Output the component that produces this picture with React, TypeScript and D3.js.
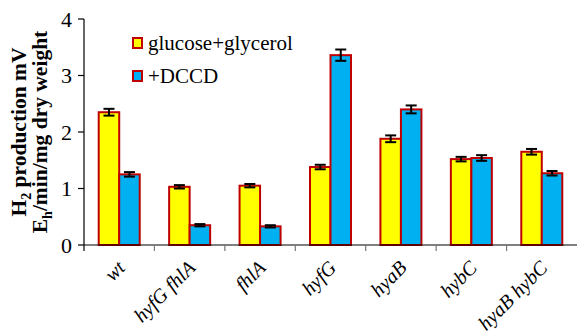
import * as d3 from 'd3';

const WIDTH = 577;
const HEIGHT = 336;
const MARGIN = { top: 19, right: 0, bottom: 91, left: 84 };

const categories = ['wt', 'hyfG fhlA', 'fhlA', 'hyfG', 'hyaB', 'hybC', 'hyaB hybC'];
const series = ['glucose+glycerol', '+DCCD'];
const glucoseValues = [2.35, 1.03, 1.05, 1.38, 1.88, 1.52, 1.65];
const glucoseErrors = [0.06, 0.03, 0.03, 0.04, 0.06, 0.04, 0.05];
const dccdValues = [1.25, 0.35, 0.33, 3.36, 2.4, 1.54, 1.27];
const dccdErrors = [0.04, 0.02, 0.02, 0.1, 0.07, 0.05, 0.04];
const yTicks = [0, 1, 2, 3, 4];
const colors = ['#ffff00', '#00b0f0'];

const FONT = 'Liberation Serif';

export default function App() {
  const w = WIDTH - MARGIN.left - MARGIN.right;
  const h = HEIGHT - MARGIN.top - MARGIN.bottom;

  const x = d3.scaleBand().domain(categories).range([0, w]);
  const xs = d3.scaleBand().domain(series).range([x.bandwidth() / 2 - 20.5, x.bandwidth() / 2 + 20.5]);
  const y = d3.scaleLinear().domain([0, 4]).range([h, 0]);

  const data = [glucoseValues, dccdValues];
  const errs = [glucoseErrors, dccdErrors];

  return (
    <svg
      width={WIDTH}
      height={HEIGHT}
      style={{ position: 'absolute', left: 0, top: 0, background: '#fff' }}
    >
      <g transform={`translate(${MARGIN.left},${MARGIN.top})`}>
        {/* bars */}
        {series.map((s, si) =>
          categories.map((c, ci) => {
            const v = data[si][ci];
            return (
              <rect
                key={`b-${s}-${c}`}
                x={(x(c) as number) + (xs(s) as number)}
                y={y(v)}
                width={xs.bandwidth()}
                height={h - y(v)}
                fill={colors[si]}
                stroke="#c00000"
                strokeWidth={2}
              />
            );
          })
        )}

        {/* error bars */}
        {series.map((s, si) =>
          categories.map((c, ci) => {
            const v = data[si][ci];
            const e = errs[si][ci];
            const cx = (x(c) as number) + (xs(s) as number) + xs.bandwidth() / 2;
            return (
              <g key={`e-${s}-${c}`} stroke="#000" strokeWidth={2}>
                <line x1={cx} x2={cx} y1={y(v - e)} y2={y(v + e)} />
                <line x1={cx - 5.5} x2={cx + 5.5} y1={y(v - e)} y2={y(v - e)} />
                <line x1={cx - 5.5} x2={cx + 5.5} y1={y(v + e)} y2={y(v + e)} />
              </g>
            );
          })
        )}

        {/* y axis */}
        <line x1={0} x2={0} y1={0} y2={h + 6} stroke="#000" strokeWidth={1.2} />
        {yTicks.map((t) => (
          <g key={`yt-${t}`}>
            <line x1={-6} x2={0} y1={y(t)} y2={y(t)} stroke="#000" strokeWidth={1.2} />
            <text x={-12} y={y(t)} dy="0.35em" textAnchor="end" fontFamily={FONT} fontSize={22}>
              {t}
            </text>
          </g>
        ))}

        {/* x axis */}
        <line x1={0} x2={w} y1={h} y2={h} stroke="#000" strokeWidth={1.2} />
        {categories.map((c, i) => {
          const cx = (x(c) as number) + x.bandwidth() / 2;
          return (
            <g key={`xt-${c}`}>
              {i > 0 && (
                <line x1={x(c) as number} x2={x(c) as number} y1={h} y2={h + 6} stroke="#777" strokeWidth={1.2} />
              )}
              <text
                transform={`translate(${cx + 2},${h + 19}) rotate(-45)`}
                textAnchor="end"
                dy="0.35em"
                fontFamily={FONT}
                fontStyle="italic"
                fontSize={20}
              >
                {c}
              </text>
            </g>
          );
        })}

        {/* legend */}
        {series.map((s, i) => {
          const ly = 43 + i * 33 - MARGIN.top;
          return (
            <g key={`l-${s}`}>
              <rect
                x={133 - MARGIN.left}
                y={ly - 5}
                width={9}
                height={10}
                fill={colors[i]}
                stroke="#c00000"
                strokeWidth={2}
              />
              <text x={148 - MARGIN.left} y={ly} dy="0.35em" fontFamily={FONT} fontSize={21}>
                {s}
              </text>
            </g>
          );
        })}
      </g>

      {/* y label */}
      <text
        transform="translate(0,132) rotate(-90)"
        textAnchor="middle"
        fontFamily={FONT}
        fontWeight="bold"
        fontSize={21.5}
      >
        <tspan x={0} y={26}>
          H<tspan dy={5} fontSize={14}>2</tspan>
          <tspan dy={-5}> production mV</tspan>
        </tspan>
        <tspan x={0} y={47}>
          E<tspan dy={5} fontSize={14}>h</tspan>
          <tspan dy={-5}>/min/mg dry weight</tspan>
        </tspan>
      </text>
    </svg>
  );
}
